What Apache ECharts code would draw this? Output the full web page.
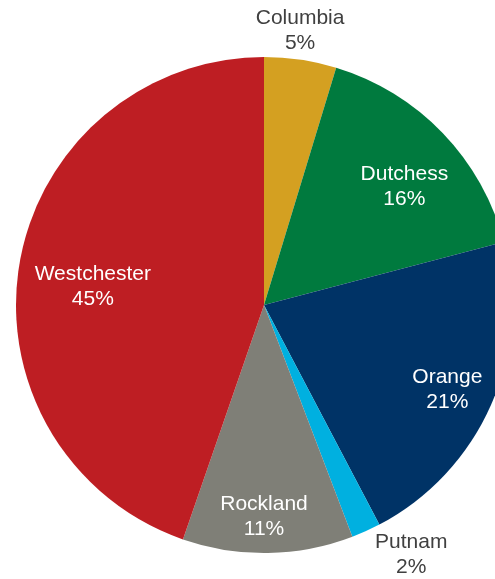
<!DOCTYPE html>
<html>
<head>
<meta charset="utf-8">
<script src="https://cdn.jsdelivr.net/npm/echarts@6/dist/echarts.min.js"></script>
<style>
  html, body { margin: 0; padding: 0; background: #fff; }
  #chart { width: 495px; height: 579px; }
</style>
</head>
<body>
<div id="chart"></div>
<script>
const counties = ['Columbia', 'Dutchess', 'Orange', 'Putnam', 'Rockland', 'Westchester'];
const shares = [4.7, 16.2, 21.4, 1.9, 11.1, 44.7];
const colors = ['#D4A021', '#007A3E', '#003366', '#00B0E0', '#7F7F77', '#BE1E23'];

// where each label sits: angle clockwise from top (deg), distance as part of radius
const labelAngle = [7.5, 49.9, 114.9, 149.5, 180, 276];
const labelDist = [1.115, 0.74, 0.815, 1.17, 0.855, 0.694];
const outsideLabel = [true, false, false, true, false, false];

const cx = 264, cy = 305, R = 248;

let chart = echarts.init(document.getElementById('chart'));

let data = counties.map(function (name, i) {
  return {
    name: name,
    value: shares[i],
    itemStyle: { color: colors[i] },
    label: { color: outsideLabel[i] ? '#404040' : '#ffffff' }
  };
});

chart.setOption({
  animation: false,
  series: [
    {
      type: 'pie',
      center: [cx, cy],
      radius: R,
      startAngle: 90,
      clockwise: true,
      data: data,
      label: {
        show: true,
        position: 'inside',
        formatter: function (p) {
          return p.name + '\n' + Math.round(p.percent) + '%';
        },
        fontFamily: '"Liberation Sans", Arial, sans-serif',
        fontSize: 21,
        lineHeight: 25,
        align: 'center'
      },
      labelLine: { show: false },
      emphasis: { disabled: true },
      labelLayout: function (params) {
        let i = params.dataIndex;
        let a = labelAngle[i] * Math.PI / 180;
        let d = labelDist[i] * R;
        return {
          x: cx + d * Math.sin(a),
          y: cy - d * Math.cos(a),
          align: 'center',
          verticalAlign: 'middle'
        };
      }
    }
  ]
});
</script>
</body>
</html>
